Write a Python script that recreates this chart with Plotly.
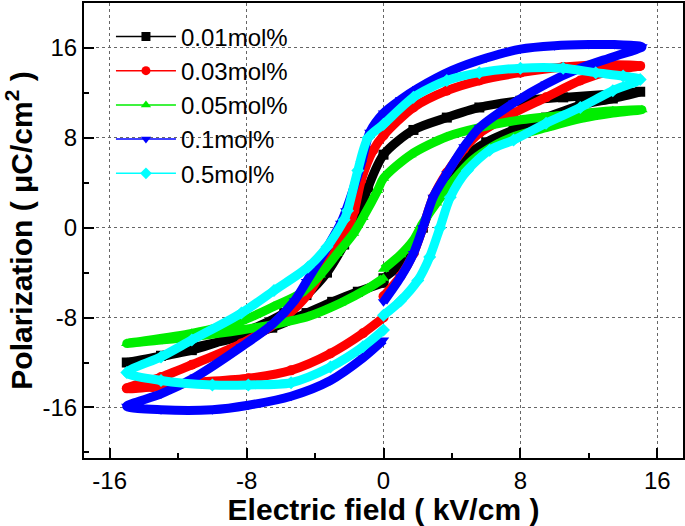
import plotly.graph_objects as go

# ---------------- data ----------------
names = ["0.01mol%", "0.03mol%", "0.05mol%", "0.1mol%", "0.5mol%"]
colors = ["#000000", "#ff0000", "#00ee00", "#0000ff", "#00ffff"]
symbols = ["square", "circle", "triangle-up", "triangle-down", "diamond"]

black_E = [0, 1, 1.75, 2.3, 2.9, 3.7, 4.7, 6, 7.6, 9.5, 11.5, 13.4, 15,
           13.4, 10.5, 8, 5.6, 3.7, 1.75, 0, -0.9, -1.5, -2.3, -3.3, -4.5, -5.8, -8.3, -11.2, -15,
           -13, -11.2, -8.3, -6.5, -4.5, -3, -1.5, 0]
black_P = [-4.5, -3.3, -2.0, 0, 2.4, 4.4, 6.2, 7.6, 8.7, 9.8, 10.9, 11.5, 12.1,
           11.9, 11.6, 11.3, 10.7, 9.8, 8.7, 6.5, 3.6, 0.9, -1.5, -4.0, -6.0, -7.6, -9.4, -10.9, -12.0,
           -11.4, -10.7, -9.7, -8.9, -7.6, -6.6, -5.7, -4.9]

red_E = [0, 1, 1.75, 2.3, 2.9, 3.7, 4.7, 5.6, 7.6, 9.5, 11.5, 13.4, 15,
         13.4, 10.5, 8, 5.6, 3.7, 1.75, 0, -0.6, -1.3, -1.7, -2.1, -3.1, -4.4, -5.8, -8.3, -11.2, -13, -15,
         -13.5, -11.2, -7.9, -5.4, -3.1, -1.2, 0]
red_P = [-6.1, -4.3, -2.3, 0, 2.7, 4.9, 7.0, 8.4, 10.2, 11.6, 13.1, 14.0, 14.4,
         14.5, 14.3, 13.8, 13.1, 12.2, 10.7, 8.2, 6.9, 4.2, 1.5, -0.2, -2.6, -5.9, -8.0, -10.3, -12.2, -13.3, -14.3,
         -14.2, -13.8, -13.4, -12.7, -11.2, -9.4, -8.0]

green_E = [0, 1, 1.75, 2.3, 3.1, 4.1, 5.2, 6.6, 7.6, 9.5, 11.5, 13.4, 15.1,
           13.4, 10.5, 8, 5.6, 3.7, 1.6, 0, -0.35, -1.2, -1.75, -2.7, -3.7, -4.8, -6.4, -8.3, -11.2, -15,
           -13, -11.2, -8.3, -6.4, -4.4, -2.5, -1, 0]
green_P = [-3.7, -2.4, -1.1, 0.4, 2.2, 4.2, 6.0, 7.4, 8.1, 8.9, 9.7, 10.2, 10.5,
           10.4, 10.0, 9.6, 8.9, 8.1, 6.5, 4.4, 3.3, 0.9, -0.5, -2.3, -4.2, -5.8, -7.0, -8.3, -9.4, -10.3,
           -10.0, -9.7, -9.1, -8.6, -7.9, -6.7, -5.5, -4.5]

blue_E = [0, 1, 1.75, 2.3, 2.9, 3.7, 4.7, 5.6, 7.6, 9.5, 11.5, 13.4, 15.1,
          13.5, 12, 10, 8, 6, 4, 2, 1, 0, -0.8, -1.3, -2.2, -2.5, -3.5, -4.5, -5.2, -6.5, -8.3, -11, -13, -15,
          -13, -10, -7.9, -5.4, -3.1, -1.2, 0]
blue_P = [-6.6, -4.4, -2.3, 0, 2.7, 4.8, 7.2, 8.9, 11.1, 12.8, 14.2, 15.2, 16.1,
          16.3, 16.3, 16.2, 15.9, 15.1, 14.0, 12.4, 11.4, 10.2, 8.5, 5.7, 1.5, 0.4, -2.3, -4.8, -6.5, -8.6, -10.6, -13.3, -14.8, -15.9,
          -16.2, -16.2, -15.8, -15.0, -13.6, -11.6, -10.0]

cyan_E = [0, 1, 2, 2.7, 3.3, 3.9, 4.9, 6.2, 7.6, 9.5, 11.5, 13.4, 15,
          14, 12.4, 10.5, 8, 5.6, 3.7, 1.75, 0, -0.9, -1.5, -2.1, -2.3, -3.3, -4.4, -6.4, -8.3, -11.2, -13, -15,
          -13, -10, -7.9, -5.4, -3.1, -1.2, 0]
cyan_P = [-7.8, -6.5, -4.7, -2.6, 0, 2.7, 5.1, 6.9, 7.8, 9.3, 10.7, 12.2, 13.2,
          13.5, 13.8, 14.2, 14.2, 13.8, 13.1, 11.6, 9.2, 8.0, 5.1, 1.5, 0.7, -1.7, -3.5, -5.6, -7.6, -10.0, -11.5, -12.9,
          -13.6, -14.0, -14.0, -13.8, -12.4, -10.6, -9.1]

x_ticks = [-16, -8, 0, 8, 16]
x_labels = ["-16", "-8", "0", "8", "16"]
y_ticks = [-16, -8, 0, 8, 16]
y_labels = ["-16", "-8", "0", "8", "16"]

series_E = [black_E, red_E, green_E, blue_E, cyan_E]
series_P = [black_P, red_P, green_P, blue_P, cyan_P]

FONT = "Arial, 'Liberation Sans', sans-serif"

fig = go.Figure()
for name, c, s, ex, py in zip(names, colors, symbols, series_E, series_P):
    fig.add_trace(go.Scatter(
        x=ex, y=py, mode="lines+markers", showlegend=False,
        line=dict(color=c, width=9, shape="spline", smoothing=0.8),
        marker=dict(color=c, symbol=s, size=10),
        hoverinfo="skip"))
for name, c, s in zip(names, colors, symbols):
    fig.add_trace(go.Scatter(
        x=[None], y=[None], mode="lines+markers", name=name,
        line=dict(color=c, width=1.5), marker=dict(color=c, symbol=s, size=9)))

axis_common = dict(
    showline=True, linecolor="black", linewidth=2, mirror=True,
    ticks="inside", ticklen=10, tickwidth=1.5, tickcolor="black",
    showgrid=True, gridcolor="#666666", gridwidth=1, griddash="dot",
    zeroline=False, automargin=False,
    tickfont=dict(family=FONT, size=24, color="black"),
    minor=dict(ticks="inside", ticklen=5, tickwidth=1.5, tickcolor="black", dtick=4, showgrid=False),
)

fig.update_xaxes(range=[-17.5, 17.5], tickmode="array", tickvals=x_ticks, ticktext=x_labels,
                 title=dict(text="<b>Electric field ( kV/cm )</b>", font=dict(family=FONT, size=30, color="black"), standoff=0),
                 **axis_common)
fig.update_yaxes(range=[-20.5, 20], tickmode="array", tickvals=y_ticks, ticktext=y_labels,
                 title=dict(text="<b>Polarization ( μC/cm<sup>2</sup> )</b>", font=dict(family=FONT, size=30, color="black"), standoff=4),
                 **axis_common)

fig.update_layout(
    width=685, height=526,
    margin=dict(l=84, r=2, t=3, b=68),
    plot_bgcolor="white", paper_bgcolor="white",
    font=dict(family=FONT, color="black"),
    legend=dict(x=0.045, y=0.975, xanchor="left", yanchor="top",
                bgcolor="rgba(0,0,0,0)", font=dict(family=FONT, size=24, color="black"),
                tracegroupgap=0, itemwidth=60),
)

fig.write_html("out.html", config={"displayModeBar": False},
               post_script="document.body.style.margin='0';document.body.style.overflow='hidden';")
